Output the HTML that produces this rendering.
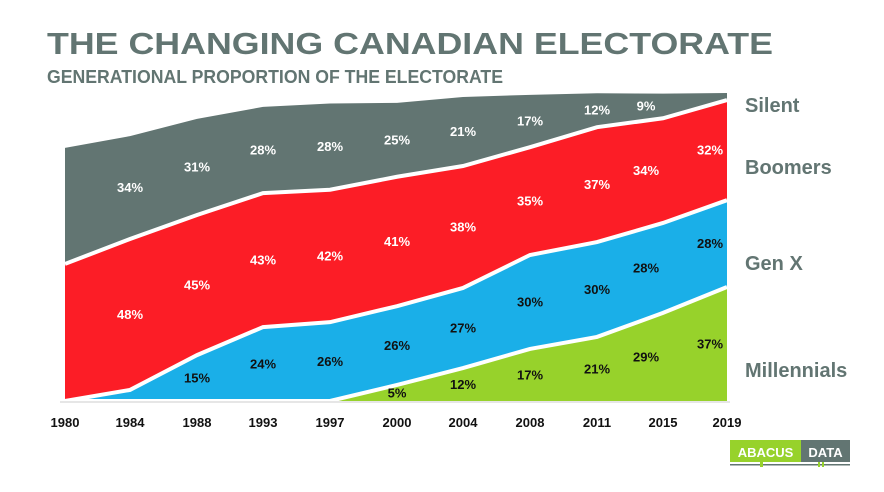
<!DOCTYPE html>
<html><head><meta charset="utf-8"><style>
html,body{margin:0;padding:0;background:#fff;}
svg{display:block;font-family:"Liberation Sans",sans-serif;}
</style></head><body>
<svg id="chart" width="884" height="492" viewBox="0 0 884 492" xmlns="http://www.w3.org/2000/svg">
<text x="47" y="54" font-size="31" font-weight="bold" fill="#627572" textLength="726" lengthAdjust="spacingAndGlyphs">THE CHANGING CANADIAN ELECTORATE</text>
<text x="47" y="83" font-size="18.5" font-weight="bold" fill="#627572" textLength="456" lengthAdjust="spacingAndGlyphs">GENERATIONAL PROPORTION OF THE ELECTORATE</text>
<g id="areas"></g>
<g id="labels"></g>
<g id="xaxis"></g>
<g id="legend"></g>
<g>
<rect x="730" y="440" width="71" height="22" fill="#97d22b"/>
<rect x="801" y="440" width="49" height="22" fill="#627572"/>
<text x="765.5" y="457" font-size="13" font-weight="bold" fill="#fff" text-anchor="middle">ABACUS</text>
<text x="825.5" y="457" font-size="13" font-weight="bold" fill="#fff" text-anchor="middle">DATA</text>
<rect x="730" y="464" width="120" height="1.5" fill="#627572"/>
<rect x="760" y="462" width="3" height="5" fill="#97d22b"/>
<rect x="818" y="462" width="2" height="5" fill="#97d22b"/>
<rect x="822" y="462" width="2" height="5" fill="#97d22b"/>
</g>
</svg>
<script>
const years = ['1980','1984','1988','1993','1997','2000','2004','2008','2011','2015','2019'];
const seriesNames = ['Millennials','Gen X','Boomers','Silent'];
const millennials = [0,0,0,0,0,5.2,10.7,16.9,20.8,28.6,37];
const genX = [0,3.6,14.9,24,25.6,25.6,26,30.5,30.8,29.2,28.2];
const boomers = [44.5,49,45.5,43.5,43,42,39.6,35,37.3,34,32.5];
const silent = [37.7,33.4,31.2,28,28,24,22.4,17,11,8,2.3];
const millennialLabels = ['','','','','','5%','12%','17%','21%','29%','37%'];
const genXLabels = ['','','15%','24%','26%','26%','27%','30%','30%','28%','28%'];
const boomerLabels = ['','48%','45%','43%','42%','41%','38%','35%','37%','34%','32%'];
const silentLabels = ['','34%','31%','28%','28%','25%','21%','17%','12%','9%',''];

const NS='http://www.w3.org/2000/svg';
const xPos=[65,130,197,263,330,397,463,530,597,663,727];
function x(i){return xPos[i];}
function y(v){return 401-v*3.08;}
const series=[millennials,genX,boomers,silent];
const labelSets=[millennialLabels,genXLabels,boomerLabels,silentLabels];
const colors=['#97d22b','#1aafe8','#fc1d26','#627572'];
const textColors=['#111','#111','#fff','#fff'];
const areaNames=['millennials-area','genx-area','boomers-area','silent-area'];
const n=years.length;
const cum=[new Array(n).fill(0)];
series.forEach((s,k)=>{cum.push(cum[k].map((c,i)=>c+s[i]));});
const gA=document.getElementById('areas');
series.forEach((s,k)=>{
  let d='M'+x(0)+','+y(cum[k][0]);
  for(let i=0;i<n;i++)d+=' L'+x(i)+','+y(cum[k+1][i]);
  for(let i=n-1;i>=0;i--)d+=' L'+x(i)+','+y(cum[k][i]);
  d+='Z';
  const p=document.createElementNS(NS,'path');
  p.setAttribute('d',d);p.setAttribute('fill',colors[k]);
  
  
  gA.appendChild(p);
});
for(let k=1;k<series.length;k++){
  let d='';
  for(let i=0;i<n;i++)d+=(i?' L':'M')+x(i)+','+y(cum[k][i]);
  const l=document.createElementNS(NS,'path');
  l.setAttribute('d',d);l.setAttribute('fill','none');l.setAttribute('stroke','#fff');l.setAttribute('stroke-width','4');
  
  
  gA.appendChild(l);
}
const base=document.createElementNS(NS,'line');
base.setAttribute('x1',60);base.setAttribute('x2',730);base.setAttribute('y1',402);base.setAttribute('y2',402);
base.setAttribute('stroke','#ddd');base.setAttribute('stroke-width','1.5');


gA.appendChild(base);
const gL=document.getElementById('labels');
labelSets.forEach((ls,k)=>{
  ls.forEach((t,i)=>{
    if(!t)return;
    const shift=i>=n-2?-17:0;
    const mid=(cum[k][i]+cum[k+1][i])/2;
    const tx=document.createElementNS(NS,'text');
    tx.setAttribute('x',x(i)+shift);tx.setAttribute('y',y(mid)+4.5);
    tx.setAttribute('text-anchor','middle');tx.setAttribute('font-size','13');tx.setAttribute('font-weight','bold');
    tx.setAttribute('fill',textColors[k]);
    tx.textContent=t;
    
    
    gL.appendChild(tx);
  });
});
const gX=document.getElementById('xaxis');
years.forEach((yr,i)=>{
  const tx=document.createElementNS(NS,'text');
  tx.setAttribute('x',x(i));tx.setAttribute('y',427);
  tx.setAttribute('text-anchor','middle');tx.setAttribute('font-size','13');tx.setAttribute('font-weight','bold');tx.setAttribute('fill','#111');
  tx.textContent=yr;
  
  
  gX.appendChild(tx);
});
const legendY=[377,270,174,112];
const gG=document.getElementById('legend');
seriesNames.forEach((nm,k)=>{
  const tx=document.createElementNS(NS,'text');
  tx.setAttribute('x',745);tx.setAttribute('y',legendY[k]);
  tx.setAttribute('font-size','20');tx.setAttribute('font-weight','bold');tx.setAttribute('fill','#627572');
  tx.textContent=nm;
  
  
  gG.appendChild(tx);
});
</script>
</body></html>
